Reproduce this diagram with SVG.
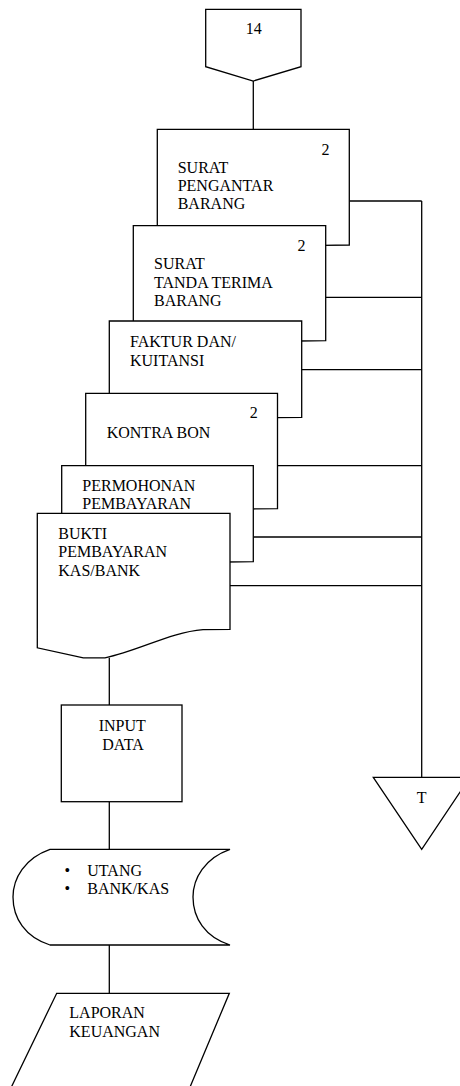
<svg xmlns="http://www.w3.org/2000/svg" width="460" height="1086" viewBox="0 0 460 1086">
<style>
.s{fill:#fff;stroke:#000;stroke-width:1.3;stroke-linejoin:miter}
.l{fill:none;stroke:#000;stroke-width:1.3}
.t{font-family:"Liberation Serif","Times New Roman",serif;font-size:16px;fill:#000}
.m{text-anchor:middle}
</style>
<rect width="460" height="1086" fill="#fff"/>
<g id="connectors">
<line class="l" x1="253.3" y1="81" x2="253.3" y2="129.3"/>
<line class="l" x1="421.7" y1="201" x2="421.7" y2="777.3"/>
<line class="l" x1="349.3" y1="201" x2="421.7" y2="201"/>
<line class="l" x1="325.7" y1="297.3" x2="421.7" y2="297.3"/>
<line class="l" x1="301.7" y1="369.7" x2="421.7" y2="369.7"/>
<line class="l" x1="277.5" y1="465.7" x2="421.7" y2="465.7"/>
<line class="l" x1="253.3" y1="537" x2="421.7" y2="537"/>
<line class="l" x1="230" y1="585.7" x2="421.7" y2="585.7"/>
<line class="l" x1="109.3" y1="657.8" x2="109.3" y2="705"/>
<line class="l" x1="109.3" y1="801.7" x2="109.3" y2="849.3"/>
<line class="l" x1="109.3" y1="945" x2="109.3" y2="993.3"/>
</g>
<g id="offpage-14">
<polygon class="s" points="205.7,9.3 301,9.3 301,66.7 253.3,81 205.7,66.7"/>
<text class="t m" x="253.8" y="34">14</text>
</g>
<g id="doc-surat-pengantar">
<path class="s" d="M157.3,129.3 H349.3 V245 L322.3,245.3 C289.3,248 259.3,266 224.3,273.5 L203.3,273.5 L157.3,263.5 Z"/>
<text class="t m" x="325.5" y="155">2</text>
<text class="t" x="177.7" y="173.3">SURAT</text>
<text class="t" x="177.7" y="191">PENGANTAR</text>
<text class="t" x="177.7" y="209.3">BARANG</text>
</g>
<g id="doc-surat-tanda-terima">
<path class="s" d="M133.3,225.7 H325.7 V340.7 L298.7,341 C265.7,343.7 235.7,361.7 200.7,369.2 L179.3,369.2 L133.3,359.2 Z"/>
<text class="t m" x="301.5" y="250.7">2</text>
<text class="t" x="154" y="269">SURAT</text>
<text class="t" x="154" y="287.7">TANDA TERIMA</text>
<text class="t" x="154" y="306">BARANG</text>
</g>
<g id="doc-faktur">
<path class="s" d="M109.3,321 H301.7 V417.3 L274.7,417.6 C241.7,420.3 211.7,438.3 176.7,445.8 L155.3,445.8 L109.3,435.8 Z"/>
<text class="t" x="130" y="347.3">FAKTUR DAN/</text>
<text class="t" x="130" y="365.7">KUITANSI</text>
</g>
<g id="doc-kontra-bon">
<path class="s" d="M85.7,393.3 H277.5 V508.7 L250.5,509 C217.5,511.7 187.5,529.7 152.5,537.2 L131.7,537.2 L85.7,527.2 Z"/>
<text class="t m" x="253.7" y="418">2</text>
<text class="t" x="106.7" y="437.7">KONTRA BON</text>
</g>
<g id="doc-permohonan">
<path class="s" d="M61.7,465.7 H253.3 V561.7 L226.3,562 C193.3,564.7 163.3,582.7 128.3,590.2 L107.7,590.2 L61.7,580.2 Z"/>
<text class="t" x="82.3" y="490.7">PERMOHONAN</text>
<text class="t" x="82.3" y="509.3">PEMBAYARAN</text>
</g>
<g id="doc-bukti">
<path class="s" d="M37.3,513.3 H230 V629.3 L203,629.6 C170,632.3 140,650.3 105,657.8 L83.3,657.8 L37.3,647.8 Z"/>
<text class="t" x="58.3" y="539">BUKTI</text>
<text class="t" x="58.3" y="557.3">PEMBAYARAN</text>
<text class="t" x="58.3" y="575.7">KAS/BANK</text>
</g>
<g id="input-data">
<rect class="s" x="61.3" y="705" width="120.7" height="96.7"/>
<text class="t" x="98.7" y="731">INPUT</text>
<text class="t" x="102.3" y="750">DATA</text>
</g>
<g id="offpage-T">
<polygon class="s" points="373.3,777.3 470,777.3 421.7,849.3"/>
<text class="t m" x="421.7" y="802.7">T</text>
</g>
<g id="storage">
<path class="s" d="M50,849.3 H230 C205,858 193,878 193,897 C193,918 205,937 230,945 H50 C25,937 13,918 13,897 C13,878 25,858 50,849.3 Z"/>
<text class="t m" x="67.2" y="876">•</text>
<text class="t m" x="67.2" y="894.3">•</text>
<text class="t" x="87.3" y="876">UTANG</text>
<text class="t" x="87.3" y="894.3">BANK/KAS</text>
</g>
<g id="laporan">
<polygon class="s" points="56.7,993.3 229.3,993.3 184.6,1100 5.1,1100"/>
<text class="t" x="69.3" y="1018.3">LAPORAN</text>
<text class="t" x="69.3" y="1036.7">KEUANGAN</text>
</g>
</svg>
